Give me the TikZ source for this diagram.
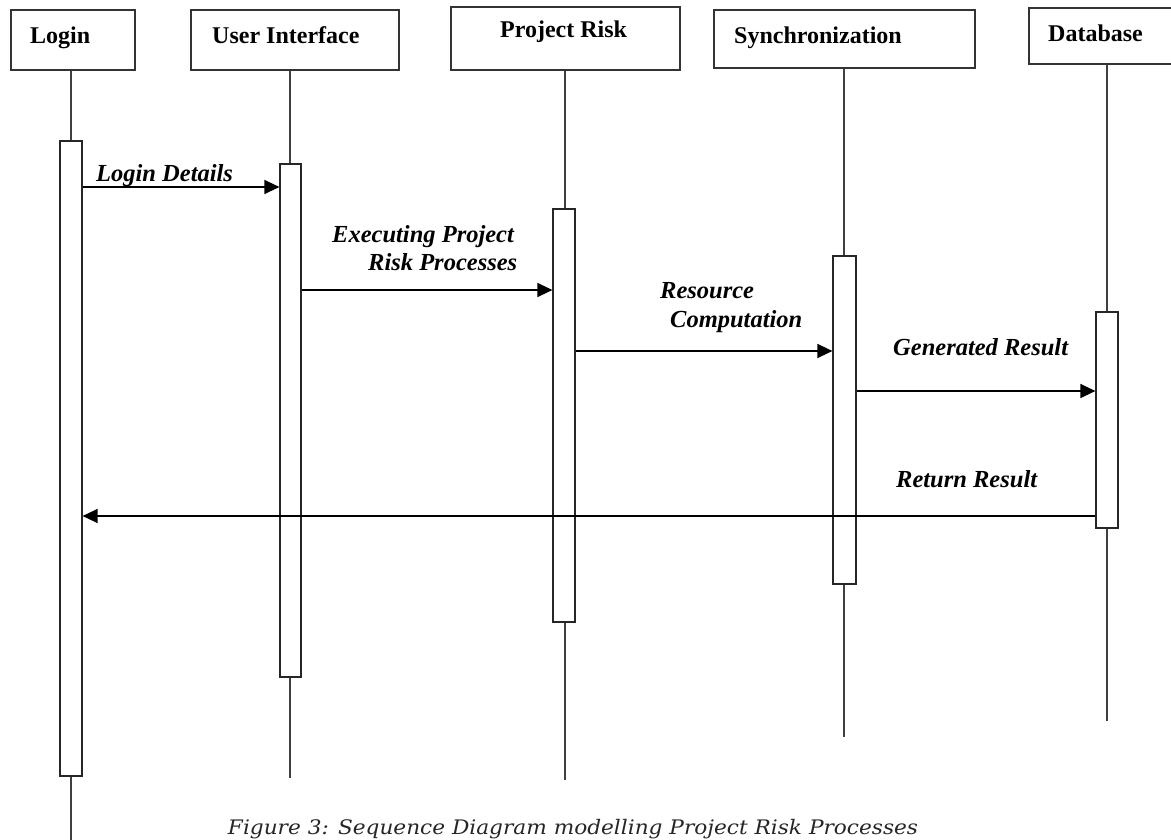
\documentclass[tikz,border=0pt]{standalone}
\usepackage{fontspec}
\usepackage{graphicx}
\newfontfamily\tnr{Liberation Serif}
\newfontfamily\capfont{DejaVu Serif}
\usetikzlibrary{arrows.meta}
\tikzset{
  headbox/.style={draw=black!80, line width=1.2pt, rectangle, inner sep=0},
  life/.style={draw=black!75, line width=1.2pt},
  actbox/.style={draw=black!85, fill=white, line width=1.2pt, rectangle, inner sep=0, minimum width=22pt},
  msg/.style={draw=black, line width=1.3pt, -{Triangle[length=15pt,width=14pt]}},
  hlab/.style={font=\tnr\bfseries\fontsize{24}{26}\selectfont, inner sep=0, anchor=base west},
  mlab/.style={font=\tnr\bfseries\itshape\fontsize{24.5}{27}\selectfont, inner sep=0, anchor=base west},
}
\begin{document}
\begin{tikzpicture}[x=1pt,y=-1pt]
\useasboundingbox (0,0) rectangle (1171,840);
\clip (0,0) rectangle (1171,840);
% header boxes
\node[headbox, minimum width=124pt, minimum height=60pt] (login) at (73,40) {};
\node[headbox, minimum width=208pt, minimum height=60pt] (ui) at (295,40) {};
\node[headbox, minimum width=229pt, minimum height=63pt] (pr) at (565.5,38.5) {};
\node[headbox, minimum width=261pt, minimum height=58pt] (sync) at (844.5,39) {};
\node[headbox, minimum width=156pt, minimum height=56pt] (db) at (1107,36) {};
\node[hlab] (tlogin) at (30,44) {Login};
\node[hlab] (tui) at (212,44) {User Interface};
\node[hlab] (tpr) at (500,38) {Project Risk};
\node[hlab] (tsync) at (734,44) {Synchronization};
\node[hlab] (tdb) at (1048,42) {Database};
% lifeline ends
\coordinate (eL) at (71,845);
\coordinate (eUI) at (290,778);
\coordinate (ePR) at (565,780);
\coordinate (eS) at (844,737);
\coordinate (eD) at (1107,721);
\draw[life] (eL |- login.south) -- (eL);
\draw[life] (eUI |- ui.south) -- (eUI);
\draw[life] (ePR |- pr.south) -- (ePR);
\draw[life] (eS |- sync.south) -- (eS);
\draw[life] (eD |- db.south) -- (eD);
% activation boxes
\node[actbox, minimum height=635pt] (aL) at (71,458.5) {};
\node[actbox, minimum width=21pt, minimum height=513pt] (aUI) at (290.5,420.5) {};
\node[actbox, minimum height=413pt] (aPR) at (564,415.5) {};
\node[actbox, minimum width=23pt, minimum height=328pt] (aS) at (844.5,420) {};
\node[actbox, minimum height=216pt] (aD) at (1107,420) {};
% messages
\draw[msg] (aL.east |- 0,187) -- (aUI.west |- 0,187);
\draw[msg] (aUI.east |- 0,290) -- (aPR.west |- 0,290);
\draw[msg] (aPR.east |- 0,351) -- (aS.west |- 0,351);
\draw[msg] (aS.east |- 0,391) -- (aD.west |- 0,391);
\draw[msg] (aD.west |- 0,516) -- (aL.east |- 0,516);
% labels
\node[mlab] (m1) at (96,182) {Login Details};
\node[mlab] (m2a) at (332,242) {Executing Project};
\node[mlab] (m2b) at (368,270) {Risk Processes};
\node[mlab] (m3a) at (660,298) {Resource};
\node[mlab] (m3b) at (670,327) {Computation};
\node[mlab] (m4) at (893,355) {Generated Result};
\node[mlab] (m5) at (896,487) {Return Result};
% caption
\node[inner sep=0, anchor=base, text=black!85] (cap) at (573,834)
  {\resizebox{690pt}{\height}{\capfont\itshape\fontsize{20}{24}\selectfont Figure 3: Sequence Diagram modelling Project Risk Processes}};
\end{tikzpicture}
\end{document}
